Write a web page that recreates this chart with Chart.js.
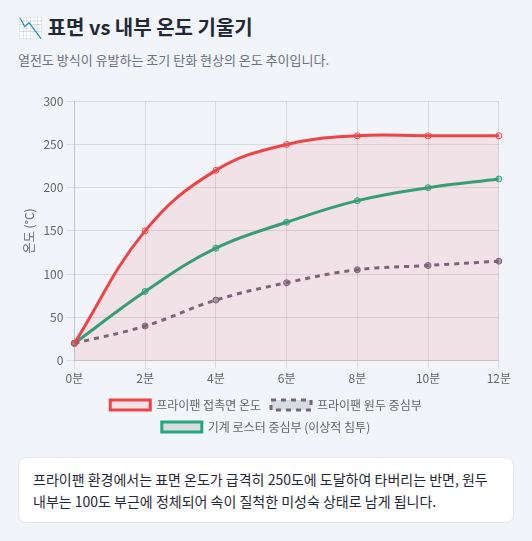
<!DOCTYPE html>
<html><head><meta charset="utf-8">
<script src="https://cdn.jsdelivr.net/npm/chart.js@4"></script>
<style>
body{margin:0;background:#f1f4f9;font-family:"Noto Sans CJK KR","Noto Sans",sans-serif;}
.wrap{padding:12px 18px 0 18px;}
h2{margin:0;font-size:20px;font-weight:700;color:#1f2937;height:30px;line-height:30px;}
.sub{margin:8px 0 0 0;font-size:13px;color:#6b7280;}
.box{position:relative;height:352px;margin-top:22px;}
.note{margin-top:14px;background:#fff;border:1px solid #e2e6ee;border-radius:8px;padding:10px 14px;font-size:14px;line-height:22px;color:#1f2937;}
</style></head><body>
<div class="wrap">
<h2>📉 표면 vs 내부 온도 기울기</h2>
<div class="sub">열전도 방식이 유발하는 조기 탄화 현상의 온도 추이입니다.</div>
<div class="box"><canvas id="c"></canvas></div>
<div class="note">프라이팬 환경에서는 표면 온도가 급격히 250도에 도달하여 타버리는 반면, 원두 내부는 100도 부근에 정체되어 속이 질척한 미성숙 상태로 남게 됩니다.</div>
</div>
<script>
var labels=['0분','2분','4분','6분','8분','10분','12분'];
var surface=[20,150,220,250,260,260,260];
var panCore=[20,40,70,90,105,110,115];
var roasterCore=[20,80,130,160,185,200,210];
Chart.defaults.font.family='"Noto Sans CJK KR","Noto Sans",sans-serif';
Chart.defaults.font.size=12;
Chart.defaults.color='#666';
new Chart(document.getElementById('c'),{
type:'line',
data:{labels:labels,datasets:[
{label:'프라이팬 접촉면 온도',data:surface,borderColor:'#ef4444',backgroundColor:'rgba(239,68,68,0.1)',fill:'origin',tension:0.4,borderWidth:3,pointRadius:3,pointBorderWidth:1,pointBackgroundColor:'rgba(239,68,68,0.1)'},
{label:'프라이팬 원두 중심부',data:panCore,borderColor:'#75657f',backgroundColor:'rgba(0,0,0,0.1)',borderDash:[5,5],fill:false,tension:0.4,borderWidth:3,pointRadius:3,pointBorderWidth:1,pointBackgroundColor:'rgba(117,101,127,0.6)'},
{label:'기계 로스터 중심부 (이상적 침투)',data:roasterCore,borderColor:'#22a87a',backgroundColor:'rgba(0,0,0,0.1)',fill:false,tension:0.4,borderWidth:3,pointRadius:3,pointBorderWidth:1,pointBackgroundColor:'rgba(34,168,122,0.3)'}
]},
options:{responsive:true,maintainAspectRatio:false,animation:false,
plugins:{legend:{position:'bottom',labels:{boxWidth:40,boxHeight:10}}},
scales:{y:{min:0,max:300,ticks:{stepSize:50},title:{display:true,text:'온도 (°C)'}},x:{}}}
});
</script>
</body></html>
